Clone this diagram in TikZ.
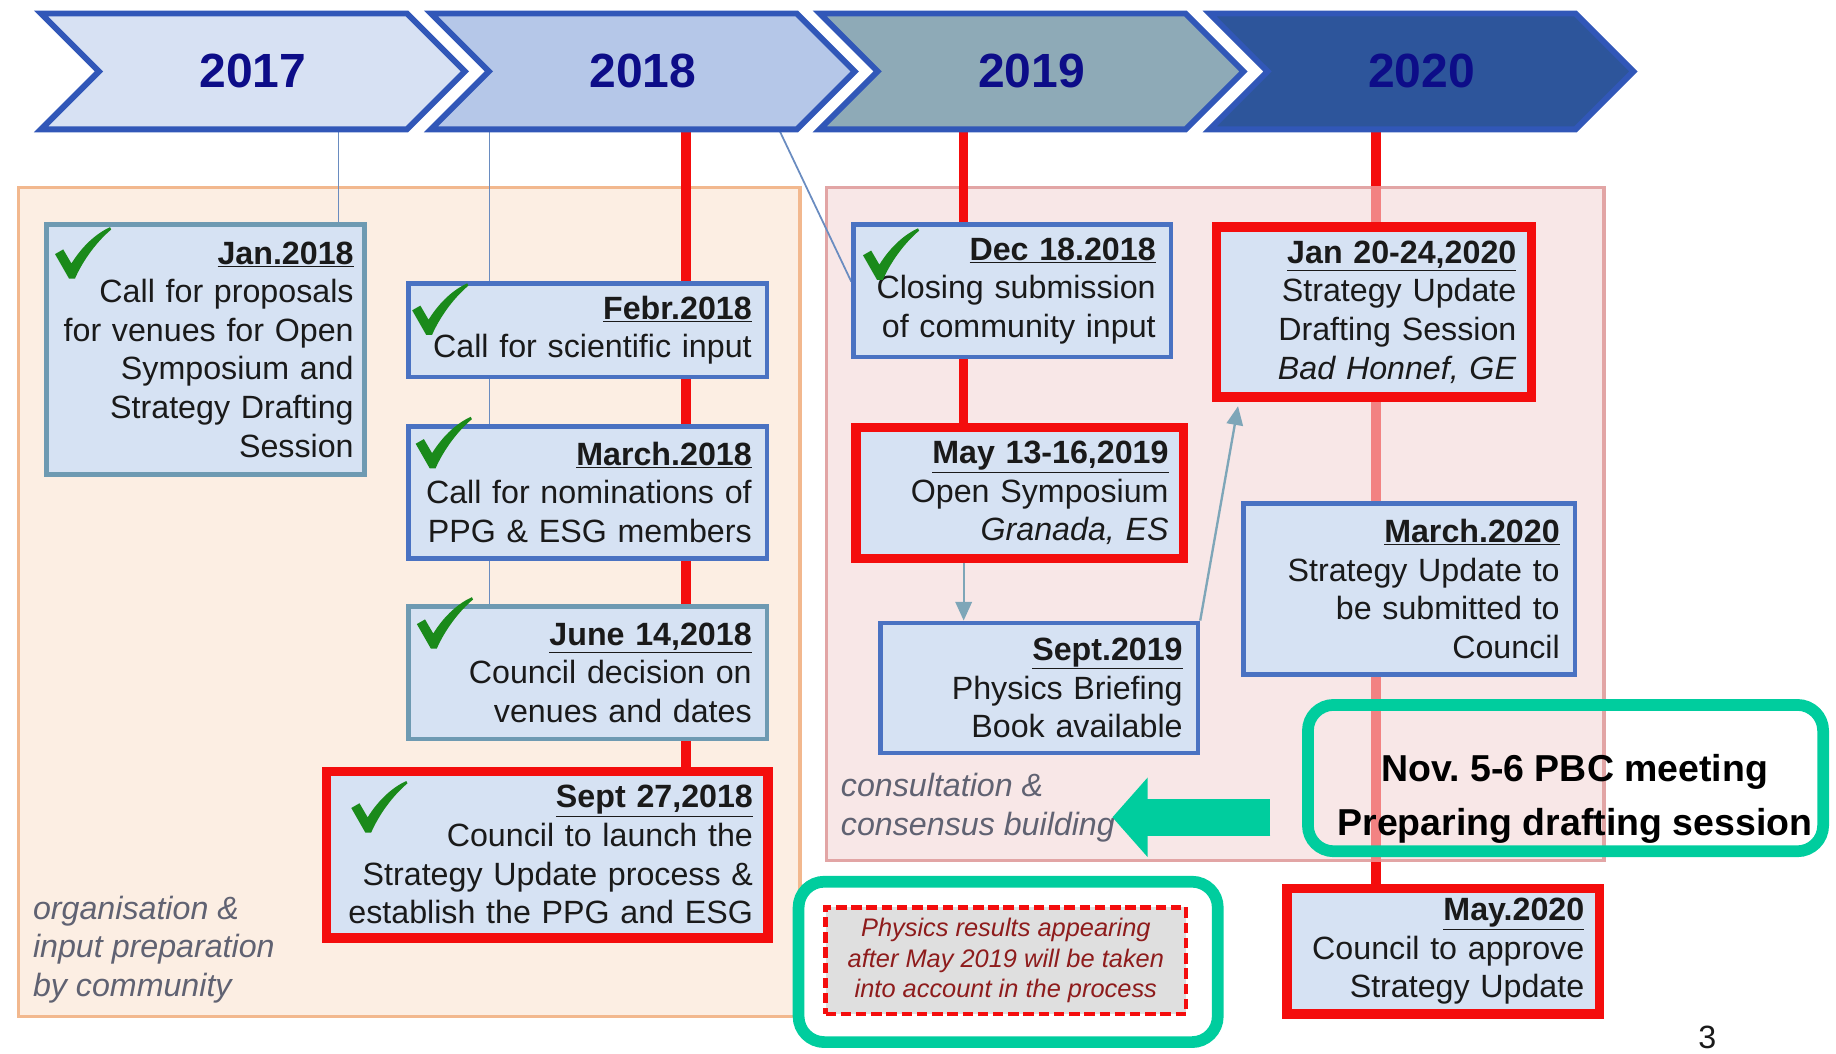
\documentclass[tikz,border=0pt]{standalone}
\usepackage{fontspec}
\setmainfont{Liberation Sans}
\usepackage{tikz}
\usetikzlibrary{arrows.meta,positioning,shapes.symbols,backgrounds}

\definecolor{yearnavy}{HTML}{0D0D88}
\definecolor{chevblue}{HTML}{3157B8}
\definecolor{fill17}{HTML}{D7E1F3}
\definecolor{fill18}{HTML}{B5C7E8}
\definecolor{fill19}{HTML}{8EAAB7}
\definecolor{fill20}{HTML}{2D559B}
\definecolor{boxfill}{HTML}{D6E2F3}
\definecolor{boxblue}{HTML}{4A72C2}
\definecolor{boxslate}{HTML}{6E9AB2}
\definecolor{keyred}{HTML}{F40D0D}
\definecolor{softred}{HTML}{F28282}
\definecolor{linkgray}{HTML}{6A8CC0}
\definecolor{arrowslate}{HTML}{7EA6B8}
\definecolor{peach}{HTML}{FCEEE3}
\definecolor{peachline}{HTML}{F2B88E}
\definecolor{rose}{HTML}{F8E7E7}
\definecolor{roseline}{HTML}{E2A5A5}
\definecolor{mint}{HTML}{00CD9E}
\definecolor{notegray}{HTML}{606272}
\definecolor{notered}{HTML}{8E1C1C}
\definecolor{tickgreen}{HTML}{1A8A1A}
\definecolor{inkblack}{HTML}{1A1A1A}

\newcommand{\evdate}[1]{\textbf{\underline{#1}}}
\newcommand{\tickmark}[1]{\fill[tickgreen, shift={#1}] (0,23) -- (7,19) -- (14,31)
    .. controls (24,15) and (36,5) .. (47,0) -- (48,2)
    .. controls (36,12) and (24,28) .. (17,44) -- (12,44) -- cycle;}

\tikzset{
    yearbox/.style={signal, signal from=west, signal to=east, draw=chevblue, line width=5pt,
      minimum width=362pt, minimum height=99pt, inner sep=0pt, text=yearnavy,
      font=\fontsize{41}{49}\selectfont\bfseries},
    event/.style={rectangle, draw=boxblue, fill=boxfill, line width=4pt, align=right,
      inner xsep=13pt, inner ysep=2pt, text=inkblack, font=\fontsize{27.5}{33}\selectfont},
    keyevent/.style={event, draw=keyred, line width=8pt},
    phasebox/.style={rectangle, line width=3pt, anchor=north west, inner sep=0pt},
    note/.style={align=left, inner sep=0pt, text=notegray, font=\fontsize{27.5}{33}\selectfont\itshape},
    thinlink/.style={draw=linkgray, line width=1.5pt},
    redlink/.style={draw=keyred, line width=8pt},
    softlink/.style={draw=softred, line width=8pt},
    flow/.style={draw=arrowslate, line width=2pt, -{Triangle[length=16pt, width=14pt]}},
    mintframe/.style={draw=mint, line width=10pt, rounded corners=22pt, inner sep=0pt},
    bigarrow/.style={draw=mint, line width=32pt, -{Triangle[length=30pt, width=66pt]}}
}

\begin{document}
\begin{tikzpicture}[x=1pt, y=-1pt, node distance=38pt]
    \useasboundingbox (0,0) rectangle (1568,900);

    \node[yearbox, fill=fill17] (y2017) at (216,61) {2017};
    \node[yearbox, fill=fill18] (y2018) at (549,61) {2018};
    \node[yearbox, fill=fill19] (y2019) at (881,61) {2019};
    \node[yearbox, fill=fill20] (y2020) at (1214,61) {2020};

    \node[event, draw=boxslate, text width=253pt, inner xsep=9pt, minimum height=213pt] (jan18) at (175.5,298.5)
      {\evdate{Jan.2018}\\Call for proposals\\for venues for Open\\Symposium and\\Strategy Drafting\\Session};
    \node[event, text width=280pt, minimum height=80pt] (feb18) at (502,282)
      {\evdate{Febr.2018}\\Call for scientific input};
    \node[event, text width=280pt, minimum height=113pt, below=38pt of feb18] (mar18)
      {\evdate{March.2018}\\Call for nominations of\\PPG \& ESG members};
    \node[event, draw=boxslate, text width=280pt, minimum height=113pt, below=37pt of mar18] (jun18)
      {\evdate{June 14,2018}\\Council decision on\\venues and dates};
    \node[keyevent, text width=351pt, minimum height=142pt] (sep18) at (467.5,730)
      {\evdate{Sept 27,2018}\\Council to launch the\\Strategy Update process \&\\establish the PPG and ESG};
    \node[event, text width=245pt, minimum height=113pt] (dec18) at (864.5,248.5)
      {\evdate{Dec 18.2018}\\Closing submission\\of community input};
    \node[keyevent, text width=254pt, minimum height=112pt] (may19) at (871,421)
      {\evdate{May 13-16,2019}\\Open Symposium\\\textit{Granada, ES}};
    \node[event, text width=245pt, minimum height=111pt] (sep19) at (887.5,587.5)
      {\evdate{Sept.2019}\\Physics Briefing\\Book available};
    \node[keyevent, text width=243pt, minimum height=145pt] (jan20) at (1173.5,266.5)
      {\evdate{Jan 20-24,2020}\\Strategy Update\\Drafting Session\\\textit{Bad Honnef, GE}};
    \node[event, text width=257pt, minimum height=146pt] (mar20) at (1203.5,503)
      {\evdate{March.2020}\\Strategy Update to\\be submitted to\\Council};
    \node[keyevent, text width=241pt, minimum height=107pt] (may20) at (1232.5,812.5)
      {\evdate{May.2020}\\Council to approve\\Strategy Update};

    \begin{scope}[on background layer]
      \node[phasebox, draw=peachline, fill=peach, minimum width=667pt, minimum height=708pt] (prep) at (14.5,158.5) {};
      \node[phasebox, draw=roseline, fill=rose, minimum width=664pt, minimum height=575pt] (consult) at (704.5,158.5) {};
      \coordinate (x17) at (289,0);
      \coordinate (x18) at (418,0);
      \coordinate (r18) at (586,0);
      \coordinate (r19) at (823,0);
      \coordinate (r20) at (1175,0);
      \coordinate (d18) at (665,110);
      \draw[thinlink] (y2017.south -| x17) -- (jan18.north -| x17);
      \draw[thinlink] (y2018.south -| x18) -- (jun18.north -| x18);
      \draw[thinlink] (d18) -- ([yshift=8pt]dec18.west);
      \draw[redlink] (y2018.south -| r18) -- (sep18.north -| r18);
      \draw[redlink] (y2019.south -| r19) -- (may19.north -| r19);
      \draw[redlink] (y2020.south -| r20) -- (may20.north -| r20);
      \draw[softlink] (consult.north -| r20) -- (consult.south -| r20);
    \end{scope}

    \draw[flow] (may19.south -| r19) -- (sep19.north -| r19);
    \draw[flow, shorten >=4pt] (sep19.north east) -- ([xshift=23pt]jan20.south west);

    \tickmark{(47,194)}
    \tickmark{(352,242)}
    \tickmark{(355,356)}
    \tickmark{(356,510)}
    \tickmark{(300,667)}
    \tickmark{(737,195)}

    \node[note, anchor=west] (orgnote) at (28,811) {organisation \&\\input preparation\\by community};
    \node[note, anchor=west] (consensus) at (718,689.5) {consultation \&\\consensus building};

    \node[mintframe, minimum width=440pt, minimum height=125pt] (pbcframe) at (1337,664.5) {};
    \node[font=\fontsize{32}{46}\selectfont\bfseries, align=center] (pbc) at (1345,682)
      {Nov.\ 5-6 PBC meeting\\Preparing drafting session};
    \draw[bigarrow] ([xshift=-27pt, yshift=-33.5pt]pbcframe.west) -- ++(-135,0);

    \node[mintframe, minimum width=358pt, minimum height=137pt] (lateframe) at (861,821.5) {};
    \node[draw=keyred, fill=gray!25, line width=4pt, dash pattern=on 9pt off 4pt, minimum width=308pt,
      minimum height=91pt, align=center, inner sep=0pt, text=notered,
      font=\fontsize{21.7}{26}\selectfont\itshape] (late) at (859,820.5)
      {Physics results appearing\\after May 2019 will be taken\\into account in the process};

    \node[font=\fontsize{27.5}{33}\selectfont, text=inkblack] (pageno) at (1458,886) {3};
\end{tikzpicture}
\end{document}
